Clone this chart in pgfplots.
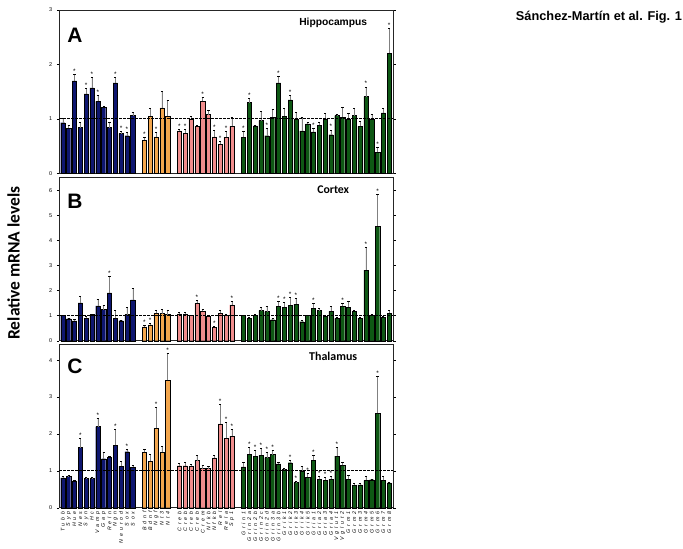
\documentclass[border=0pt]{standalone}
\usepackage{fontspec}
\setmainfont{Liberation Sans}
\newfontfamily\carlito{Carlito}
\newfontfamily\labfont[LetterSpace=55]{Liberation Sans}
\usepackage{pgfplots}
\usepackage{pgfplotstable}
\pgfplotsset{compat=1.18}
\definecolor{cblue}{RGB}{14,22,112}
\definecolor{corange}{RGB}{243,166,77}
\definecolor{cpink}{RGB}{240,140,140}
\definecolor{cgreen}{RGB}{14,88,20}

\pgfplotstableread{
x y e s
0 0.93 0.09 0
1 0.83 0.06 0
2 1.70 0.12 1
3 0.84 0.10 0
4 1.46 0.11 1
5 1.57 0.20 1
6 1.32 0.12 1
7 1.21 0.03 0
8 0.84 0.10 0
9 1.66 0.11 1
10 0.73 0.05 1
11 0.69 0.07 1
12 1.06 0.07 0
14 0.61 0.06 1
15 1.05 0.15 0
16 0.67 0.09 1
17 1.20 0.30 0
18 1.05 0.30 0
20 0.78 0.03 1
21 0.74 0.07 1
22 1.00 0.05 0
23 0.86 0.02 0
24 1.32 0.08 1
25 1.08 0.07 0
26 0.67 0.12 1
27 0.53 0.05 1
28 0.66 0.12 1
29 0.86 0.17 0
31 0.66 0.12 1
32 1.30 0.08 1
33 0.87 0.02 0
34 0.97 0.17 0
35 0.69 0.13 1
36 1.03 0.14 0
37 1.66 0.13 1
38 1.05 0.15 0
39 1.35 0.08 1
40 1.00 0.13 0
41 0.78 0.25 0
42 0.91 0.02 0
43 0.76 0.07 1
44 0.88 0.06 0
45 1.00 0.10 0
46 0.71 0.09 1
47 1.06 0.02 0
48 1.03 0.19 0
49 1.00 0.10 0
50 1.06 0.13 0
51 0.86 0.09 0
52 1.41 0.18 1
53 1.00 0.08 0
54 0.39 0.08 1
55 1.11 0.08 0
56 2.21 0.45 1
}\hippo

\pgfplotstableread{
x y e s
0 1.00 0.02 0
1 0.88 0.03 0
2 0.79 0.05 0
3 1.51 0.28 0
4 0.89 0.07 0
5 1.04 0.03 0
6 1.39 0.26 0
7 1.24 0.16 0
8 1.91 0.65 1
9 0.89 0.31 0
10 0.80 0.03 0
11 1.04 0.28 0
12 1.63 0.46 0
14 0.55 0.05 1
15 0.63 0.06 1
16 1.09 0.14 0
17 1.08 0.16 0
18 1.04 0.19 0
20 1.07 0.08 0
21 1.05 0.08 0
22 1.00 0.03 0
23 1.50 0.12 1
24 1.17 0.08 0
25 0.97 0.05 0
26 0.53 0.05 1
27 1.10 0.10 0
28 1.02 0.03 0
29 1.43 0.15 1
31 1.00 0.02 0
32 0.90 0.04 0
33 1.01 0.04 0
34 1.20 0.13 0
35 1.16 0.20 0
36 0.84 0.04 0
37 1.38 0.20 1
38 1.33 0.20 1
39 1.42 0.30 1
40 1.46 0.24 1
41 0.76 0.06 0
42 1.00 0.03 0
43 1.29 0.20 1
44 1.20 0.09 0
45 0.96 0.03 0
46 1.17 0.19 0
47 0.89 0.04 0
48 1.37 0.12 1
49 1.34 0.24 0
50 1.18 0.04 0
51 0.90 0.03 0
52 2.82 0.92 1
53 1.02 0.04 0
54 4.57 1.27 1
55 0.93 0.04 0
56 1.10 0.12 0
}\cortex

\pgfplotstableread{
x y e s
0 0.81 0.03 0
1 0.85 0.02 0
2 0.73 0.02 0
3 1.63 0.24 1
4 0.79 0.04 0
5 0.79 0.04 0
6 2.20 0.23 1
7 1.33 0.17 0
8 1.37 0.02 0
9 1.69 0.45 1
10 1.13 0.13 0
11 1.52 0.06 1
12 1.10 0.04 0
14 1.50 0.09 0
15 1.26 0.19 0
16 2.15 0.58 1
17 1.50 0.16 0
18 3.45 0.75 1
20 1.14 0.06 0
21 1.14 0.08 0
22 1.12 0.06 0
23 1.28 0.14 0
24 1.06 0.08 0
25 1.06 0.07 0
26 1.35 0.06 0
27 2.27 0.53 1
28 1.88 0.44 1
29 1.94 0.18 1
31 1.11 0.12 0
32 1.45 0.20 1
33 1.40 0.16 1
34 1.42 0.18 1
35 1.36 0.15 1
36 1.44 0.12 1
37 1.19 0.05 0
38 1.04 0.02 0
39 1.22 0.07 1
40 0.68 0.04 1
41 0.99 0.13 0
42 0.83 0.10 1
43 1.29 0.13 1
44 0.77 0.07 1
45 0.74 0.08 1
46 0.77 0.07 1
47 1.40 0.24 1
48 1.15 0.09 0
49 0.77 0.11 0
50 0.61 0.05 0
51 0.62 0.04 0
52 0.74 0.10 0
53 0.76 0.02 0
54 2.56 1.01 1
55 0.74 0.10 0
56 0.67 0.03 0
}\thal

\pgfplotsset{
  panel/.style={
    width=334bp, scale only axis,
    xmin=-0.6, xmax=56.7, ymin=0,
    axis line style={line width=0.9pt, black!85},
    xtick=\empty,
    tick align=outside, major tick length=2.5bp,
    ytick style={black, line width=0.4pt},
    yticklabel style={font=\fontsize{5.5}{6}\selectfont, xshift=-1bp},
    /pgf/number format/assume math mode=true,
    clip=false,
  },
  grp/.style={ybar, bar shift=0pt, bar width=0.72, draw=black, line width=0.3pt,
    error bars/.cd, y dir=plus, y explicit,
    error bar style={black!50, line width=0.45pt},
    error mark options={rotate=90, mark size=1.1bp, black, line width=0.5pt}},
}

\newcommand{\drawbars}[1]{%
  \addplot[fill=cblue, restrict x to domain=-1:12.5, grp] table[x=x,y=y,y error=e]{#1};
  \addplot[fill=corange, restrict x to domain=13.5:18.5, grp] table[x=x,y=y,y error=e]{#1};
  \addplot[fill=cpink, restrict x to domain=19.5:29.5, grp] table[x=x,y=y,y error=e]{#1};
  \addplot[fill=cgreen, restrict x to domain=30.5:57, grp] table[x=x,y=y,y error=e]{#1};
  \addplot[only marks, mark=text, text mark={\fontsize{6.5}{6}\selectfont *}, mark options={yshift=3bp},
    restrict expr to domain={\thisrow{s}}{0.5:1.5}]
    table[x=x, y expr=\thisrow{y}+\thisrow{e}]{#1};
  \addplot[black, dashed, line width=1.1pt, dash pattern=on 2.5bp off 1.5bp] coordinates {(-0.6,1) (56.7,1)};
}

\begin{document}
\begin{tikzpicture}
\path[use as bounding box] (0,0) rectangle (683bp,-549bp);

\begin{axis}[panel, at={(59.3bp,-10bp)}, anchor=north west, height=163.3bp,
  ymax=3, ytick={0,1,2,3}]
  \drawbars{\hippo}
  \node[font=\bfseries\fontsize{21}{21}\selectfont] at (rel axis cs:0.047,0.844) {A};
  \node[font=\bfseries\fontsize{10.3}{11}\selectfont] at (rel axis cs:0.82,0.922) {Hippocampus};
\end{axis}

\begin{axis}[panel, at={(59.3bp,-177.3bp)}, anchor=north west, height=163.4bp,
  ymax=6.52, ytick={0,1,...,6}]
  \drawbars{\cortex}
  \node[font=\bfseries\fontsize{21}{21}\selectfont] at (rel axis cs:0.047,0.856) {B};
  \node[font=\carlito\bfseries\fontsize{11.8}{12}\selectfont] at (rel axis cs:0.82,0.927) {Cortex};
\end{axis}

\begin{axis}[panel, at={(59.3bp,-344.7bp)}, anchor=north west, height=163bp,
  ymax=4.42, ytick={0,1,2,3,4},
  xtick={0,1,2,3,4,5,6,7,8,9,10,11,12,14,15,16,17,18,20,21,22,23,24,25,26,27,28,29,31,32,33,34,35,36,37,38,39,40,41,42,43,44,45,46,47,48,49,50,51,52,53,54,55,56},
  xticklabels={Tubb,Syp,Hue,Nes,Syn,Hc,Vamp,Gap,Reln,Ngn,Neurod,Sox,Sox,Bdnf,Bdnf,Ngf,Nt3,Nt4,Creb,Creb,Creb,Creb,Crem,Nfkb,Nfkb,Rel,Rela,Sp1,Grin1,Grin2a,Grin2b,Grin2c,Grin2d,Grin3a,Grin3b,Grik1,Grik2,Grik3,Grik4,Grik5,Gria1,Gria2,Gria3,Gria4,Vglut1,Vglut2,Grm1,Grm2,Grm3,Grm4,Grm5,Grm6,Grm7,Grm8},
  xtick style={draw=none},
  xticklabel style={rotate=90, anchor=east, font=\labfont\itshape\fontsize{5.3}{5}\selectfont, inner sep=1bp, yshift=0bp},
  ]
  \drawbars{\thal}
  \node[font=\bfseries\fontsize{21}{21}\selectfont] at (rel axis cs:0.047,0.87) {C};
  \node[font=\carlito\bfseries\fontsize{12}{12}\selectfont] at (rel axis cs:0.82,0.926) {Thalamus};
\end{axis}

\node[rotate=90, font=\carlito\bfseries\fontsize{17.5}{18}\selectfont] at (13.5bp,-263bp) {Relative mRNA levels};
\node[font=\bfseries\fontsize{12.8}{13}\selectfont] at (599bp,-17bp) {Sánchez-Martín et al. Fig. 1};
\end{tikzpicture}
\end{document}
